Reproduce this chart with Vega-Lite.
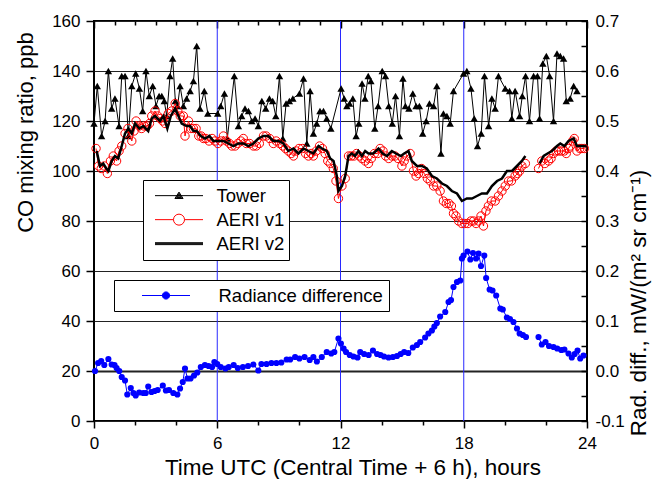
{
  "$schema": "https://vega.github.io/schema/vega-lite/v6.json",
  "width": 493,
  "height": 400,
  "autosize": {"type": "none"},
  "padding": {"left": 94, "top": 21, "right": 66, "bottom": 58},
  "config": {
    "font": "Liberation Sans",
    "view": {"stroke": "#000000", "strokeWidth": 2},
    "axis": {"labelColor": "#000000", "titleColor": "#000000", "tickColor": "#000000", "titleFontWeight": "normal", "labelFont": "Liberation Sans", "titleFont": "Liberation Sans"}
  },
  "datasets": {
    "tower": [
      {"t":0,"co":119},{"t":0.16,"co":134},{"t":0.37,"co":114},{"t":0.54,"co":120},{"t":0.7,"co":140},{"t":0.86,"co":125},{"t":1.02,"co":129},{"t":1.22,"co":118},{"t":1.35,"co":138},{"t":1.51,"co":138},{"t":1.67,"co":114},{"t":1.84,"co":134},{"t":2.03,"co":139},{"t":2.21,"co":133},{"t":2.37,"co":124},{"t":2.53,"co":140},{"t":2.69,"co":130},{"t":2.86,"co":134},{"t":3.02,"co":126},{"t":3.17,"co":130},{"t":3.3,"co":130},{"t":3.42,"co":128},{"t":3.54,"co":122},{"t":3.7,"co":138},{"t":3.83,"co":145},{"t":3.96,"co":128},{"t":4.07,"co":126},{"t":4.19,"co":134},{"t":4.35,"co":126},{"t":4.51,"co":129},{"t":4.68,"co":132},{"t":4.84,"co":136},{"t":5.0,"co":150},{"t":5.16,"co":125},{"t":5.37,"co":132},{"t":5.54,"co":123},{"t":6.02,"co":123},{"t":6.17,"co":126},{"t":6.35,"co":131},{"t":6.49,"co":113},{"t":6.83,"co":138},{"t":7.03,"co":118},{"t":7.19,"co":122},{"t":7.35,"co":125},{"t":7.52,"co":124},{"t":7.68,"co":120},{"t":7.84,"co":121},{"t":8.0,"co":118},{"t":8.17,"co":128},{"t":8.36,"co":125},{"t":8.54,"co":129},{"t":8.7,"co":128},{"t":8.85,"co":122},{"t":9.03,"co":138},{"t":9.19,"co":113},{"t":9.35,"co":127},{"t":9.51,"co":128},{"t":9.68,"co":129},{"t":10.0,"co":131},{"t":10.2,"co":137},{"t":10.36,"co":111},{"t":10.52,"co":132},{"t":10.68,"co":115},{"t":10.84,"co":119},{"t":11.0,"co":124},{"t":11.17,"co":124},{"t":11.33,"co":121},{"t":11.53,"co":117},{"t":12.03,"co":133},{"t":12.18,"co":129},{"t":12.31,"co":126},{"t":12.44,"co":127},{"t":12.6,"co":129},{"t":12.76,"co":114},{"t":12.89,"co":119},{"t":13.05,"co":135},{"t":13.19,"co":129},{"t":13.35,"co":138},{"t":13.48,"co":136},{"t":13.67,"co":117},{"t":13.83,"co":126},{"t":14.03,"co":140},{"t":14.19,"co":138},{"t":14.35,"co":126},{"t":14.52,"co":119},{"t":14.68,"co":130},{"t":14.87,"co":114},{"t":15.04,"co":137},{"t":15.16,"co":126},{"t":15.33,"co":125},{"t":15.52,"co":131},{"t":15.68,"co":126},{"t":15.84,"co":126},{"t":16.0,"co":115},{"t":16.17,"co":120},{"t":16.33,"co":127},{"t":16.53,"co":126},{"t":16.69,"co":134},{"t":16.89,"co":107},{"t":17.01,"co":123},{"t":17.18,"co":122},{"t":17.34,"co":119},{"t":17.5,"co":132},{"t":17.99,"co":139},{"t":18.15,"co":140},{"t":18.35,"co":133},{"t":18.51,"co":121},{"t":18.67,"co":110},{"t":18.85,"co":115},{"t":19.01,"co":138},{"t":19.21,"co":118},{"t":19.37,"co":129},{"t":19.53,"co":125},{"t":19.69,"co":138},{"t":20.02,"co":133},{"t":20.23,"co":132},{"t":20.34,"co":121},{"t":20.5,"co":132},{"t":20.72,"co":122},{"t":20.85,"co":130},{"t":21.01,"co":138},{"t":21.2,"co":120},{"t":21.4,"co":138},{"t":21.59,"co":138},{"t":21.69,"co":121},{"t":21.85,"co":143},{"t":22.02,"co":146},{"t":22.18,"co":138},{"t":22.37,"co":120},{"t":22.54,"co":147},{"t":22.7,"co":146},{"t":22.86,"co":145},{"t":22.99,"co":128},{"t":23.18,"co":129},{"t":23.35,"co":134},{"t":23.51,"co":132}
    ],
    "v1": [
      {"t":0.1,"co":109,"g":1},{"t":0.22,"co":102,"g":1},{"t":0.35,"co":101,"g":1},{"t":0.5,"co":102,"g":1},{"t":0.65,"co":99,"g":1},{"t":0.8,"co":104,"g":1},{"t":0.94,"co":106,"g":1},{"t":1.1,"co":104,"g":1},{"t":1.22,"co":108,"g":1},{"t":1.35,"co":110,"g":1},{"t":1.51,"co":115,"g":1},{"t":1.65,"co":117,"g":1},{"t":1.84,"co":112,"g":1},{"t":1.95,"co":116,"g":1},{"t":2.05,"co":120,"g":1},{"t":2.2,"co":118,"g":1},{"t":2.32,"co":117,"g":1},{"t":2.44,"co":118,"g":1},{"t":2.58,"co":118,"g":1},{"t":2.7,"co":119,"g":1},{"t":2.81,"co":122,"g":1},{"t":2.97,"co":124,"g":1},{"t":3.1,"co":122,"g":1},{"t":3.22,"co":121,"g":1},{"t":3.34,"co":120,"g":1},{"t":3.46,"co":119,"g":1},{"t":3.62,"co":123,"g":1},{"t":3.78,"co":124,"g":1},{"t":3.95,"co":127,"g":1},{"t":4.08,"co":124,"g":1},{"t":4.2,"co":122,"g":1},{"t":4.35,"co":122,"g":1},{"t":4.43,"co":114,"g":1},{"t":4.6,"co":120,"g":1},{"t":4.72,"co":117,"g":1},{"t":4.84,"co":117,"g":1},{"t":4.97,"co":117,"g":1},{"t":5.1,"co":114,"g":1},{"t":5.22,"co":114,"g":1},{"t":5.33,"co":113,"g":1},{"t":5.45,"co":113,"g":1},{"t":5.6,"co":112,"g":1},{"t":5.75,"co":113,"g":1},{"t":5.89,"co":112,"g":1},{"t":6.03,"co":111,"g":1},{"t":6.17,"co":112,"g":1},{"t":6.3,"co":114,"g":1},{"t":6.45,"co":112,"g":1},{"t":6.6,"co":111,"g":1},{"t":6.71,"co":110,"g":1},{"t":6.87,"co":110,"g":1},{"t":7.0,"co":111,"g":1},{"t":7.15,"co":112,"g":1},{"t":7.27,"co":113,"g":1},{"t":7.42,"co":111,"g":1},{"t":7.58,"co":111,"g":1},{"t":7.76,"co":110,"g":1},{"t":7.9,"co":110,"g":1},{"t":8.05,"co":111,"g":1},{"t":8.25,"co":114,"g":1},{"t":8.38,"co":114,"g":1},{"t":8.55,"co":113,"g":1},{"t":8.73,"co":111,"g":1},{"t":8.87,"co":112,"g":1},{"t":9.04,"co":111,"g":1},{"t":9.19,"co":110,"g":1},{"t":9.32,"co":109,"g":1},{"t":9.46,"co":108,"g":1},{"t":9.6,"co":107,"g":1},{"t":9.71,"co":106,"g":1},{"t":9.85,"co":108,"g":1},{"t":9.98,"co":109,"g":1},{"t":10.15,"co":109,"g":1},{"t":10.3,"co":107,"g":1},{"t":10.44,"co":106,"g":1},{"t":10.57,"co":107,"g":1},{"t":10.68,"co":106,"g":1},{"t":10.82,"co":108,"g":1},{"t":10.98,"co":110,"g":1},{"t":11.12,"co":109,"g":1},{"t":11.25,"co":107,"g":1},{"t":11.38,"co":104,"g":1},{"t":11.5,"co":103,"g":1},{"t":11.65,"co":101,"g":1},{"t":11.78,"co":96,"g":1},{"t":11.9,"co":89,"g":1},{"t":12.07,"co":94,"g":1},{"t":12.23,"co":97,"g":1},{"t":12.39,"co":106,"g":1},{"t":12.52,"co":106,"g":1},{"t":12.65,"co":106,"g":1},{"t":12.78,"co":107,"g":1},{"t":12.92,"co":106,"g":1},{"t":13.04,"co":105,"g":1},{"t":13.2,"co":104,"g":1},{"t":13.36,"co":103,"g":1},{"t":13.5,"co":105,"g":1},{"t":13.65,"co":107,"g":1},{"t":13.8,"co":107,"g":1},{"t":13.93,"co":109,"g":1},{"t":14.07,"co":108,"g":1},{"t":14.2,"co":106,"g":1},{"t":14.35,"co":105,"g":1},{"t":14.5,"co":106,"g":1},{"t":14.65,"co":106,"g":1},{"t":14.8,"co":105,"g":1},{"t":14.99,"co":102,"g":1},{"t":15.1,"co":104,"g":1},{"t":15.23,"co":106,"g":1},{"t":15.39,"co":107,"g":1},{"t":15.55,"co":100,"g":1},{"t":15.68,"co":98,"g":1},{"t":15.8,"co":99,"g":1},{"t":15.95,"co":101,"g":1},{"t":16.08,"co":99,"g":1},{"t":16.23,"co":97,"g":1},{"t":16.37,"co":96,"g":1},{"t":16.53,"co":94,"g":1},{"t":16.69,"co":94,"g":1},{"t":16.85,"co":92,"g":1},{"t":17.01,"co":88,"g":1},{"t":17.15,"co":87,"g":1},{"t":17.28,"co":87,"g":1},{"t":17.4,"co":86,"g":1},{"t":17.5,"co":83,"g":1},{"t":17.62,"co":82,"g":1},{"t":17.75,"co":80,"g":1},{"t":17.91,"co":79,"g":1},{"t":18.05,"co":79,"g":1},{"t":18.2,"co":79,"g":1},{"t":18.35,"co":80,"g":1},{"t":18.48,"co":80,"g":1},{"t":18.6,"co":79,"g":1},{"t":18.72,"co":80,"g":1},{"t":18.84,"co":82,"g":1},{"t":18.96,"co":78,"g":1},{"t":19.08,"co":84,"g":1},{"t":19.2,"co":86,"g":1},{"t":19.35,"co":88,"g":1},{"t":19.53,"co":88,"g":1},{"t":19.69,"co":90,"g":1},{"t":19.86,"co":92,"g":1},{"t":20.02,"co":94,"g":1},{"t":20.18,"co":96,"g":1},{"t":20.32,"co":96,"g":1},{"t":20.5,"co":98,"g":1},{"t":20.62,"co":99,"g":1},{"t":20.72,"co":100,"g":1},{"t":20.83,"co":102,"g":1},{"t":21.0,"co":103,"g":1},{"t":21.64,"co":101,"g":2},{"t":21.8,"co":104,"g":2},{"t":21.95,"co":103,"g":2},{"t":22.13,"co":104,"g":2},{"t":22.25,"co":105,"g":2},{"t":22.37,"co":107,"g":2},{"t":22.5,"co":108,"g":2},{"t":22.62,"co":108,"g":2},{"t":22.75,"co":108,"g":2},{"t":22.9,"co":108,"g":2},{"t":22.99,"co":107,"g":2},{"t":23.1,"co":109,"g":2},{"t":23.18,"co":110,"g":2},{"t":23.3,"co":112,"g":2},{"t":23.38,"co":113,"g":2},{"t":23.51,"co":108,"g":2},{"t":23.65,"co":109,"g":2},{"t":23.75,"co":109,"g":2},{"t":23.87,"co":109,"g":2}
    ],
    "v2": [
      {"t":0.13,"co":108,"g":1},{"t":0.29,"co":102,"g":1},{"t":0.45,"co":103,"g":1},{"t":0.6,"co":101,"g":1},{"t":0.7,"co":100,"g":1},{"t":0.86,"co":104,"g":1},{"t":1.02,"co":106,"g":1},{"t":1.18,"co":105,"g":1},{"t":1.35,"co":110,"g":1},{"t":1.51,"co":115,"g":1},{"t":1.67,"co":117,"g":1},{"t":1.84,"co":115,"g":1},{"t":2.0,"co":119,"g":1},{"t":2.21,"co":117,"g":1},{"t":2.4,"co":118,"g":1},{"t":2.64,"co":116,"g":1},{"t":2.81,"co":121,"g":1},{"t":2.97,"co":122,"g":1},{"t":3.21,"co":120,"g":1},{"t":3.38,"co":122,"g":1},{"t":3.57,"co":117,"g":1},{"t":3.74,"co":122,"g":1},{"t":3.95,"co":125,"g":1},{"t":4.11,"co":122,"g":1},{"t":4.27,"co":119,"g":1},{"t":4.51,"co":118,"g":1},{"t":4.68,"co":118,"g":1},{"t":4.84,"co":116,"g":1},{"t":5.0,"co":116,"g":1},{"t":5.2,"co":114,"g":1},{"t":5.41,"co":113,"g":1},{"t":5.62,"co":114,"g":1},{"t":5.81,"co":112,"g":1},{"t":6.05,"co":112,"g":1},{"t":6.3,"co":112,"g":1},{"t":6.54,"co":111,"g":1},{"t":6.79,"co":110,"g":1},{"t":7.03,"co":111,"g":1},{"t":7.27,"co":111,"g":1},{"t":7.52,"co":110,"g":1},{"t":7.76,"co":111,"g":1},{"t":8.0,"co":113,"g":1},{"t":8.25,"co":114,"g":1},{"t":8.49,"co":114,"g":1},{"t":8.73,"co":112,"g":1},{"t":8.98,"co":112,"g":1},{"t":9.22,"co":111,"g":1},{"t":9.46,"co":108,"g":1},{"t":9.71,"co":109,"g":1},{"t":9.95,"co":107,"g":1},{"t":10.2,"co":109,"g":1},{"t":10.44,"co":108,"g":1},{"t":10.68,"co":107,"g":1},{"t":10.93,"co":110,"g":1},{"t":11.1,"co":109,"g":1},{"t":11.33,"co":108,"g":1},{"t":11.5,"co":105,"g":1},{"t":11.66,"co":104,"g":1},{"t":11.82,"co":98,"g":1},{"t":11.9,"co":92,"g":1},{"t":12.07,"co":94,"g":1},{"t":12.23,"co":98,"g":1},{"t":12.39,"co":106,"g":1},{"t":12.55,"co":107,"g":1},{"t":12.71,"co":106,"g":1},{"t":12.87,"co":108,"g":1},{"t":13.04,"co":106,"g":1},{"t":13.2,"co":108,"g":1},{"t":13.36,"co":107,"g":1},{"t":13.6,"co":107,"g":1},{"t":13.85,"co":109,"g":1},{"t":14.05,"co":107,"g":1},{"t":14.26,"co":106,"g":1},{"t":14.5,"co":108,"g":1},{"t":14.7,"co":107,"g":1},{"t":14.94,"co":106,"g":1},{"t":15.1,"co":107,"g":1},{"t":15.31,"co":108,"g":1},{"t":15.47,"co":104,"g":1},{"t":15.72,"co":102,"g":1},{"t":15.96,"co":102,"g":1},{"t":16.2,"co":101,"g":1},{"t":16.45,"co":98,"g":1},{"t":16.69,"co":97,"g":1},{"t":16.94,"co":95,"g":1},{"t":17.18,"co":94,"g":1},{"t":17.42,"co":92,"g":1},{"t":17.67,"co":91,"g":1},{"t":17.91,"co":88,"g":1},{"t":18.15,"co":89,"g":1},{"t":18.4,"co":89,"g":1},{"t":18.64,"co":90,"g":1},{"t":18.88,"co":91,"g":1},{"t":19.13,"co":91,"g":1},{"t":19.37,"co":94,"g":1},{"t":19.62,"co":96,"g":1},{"t":19.86,"co":97,"g":1},{"t":20.1,"co":100,"g":1},{"t":20.35,"co":100,"g":1},{"t":20.59,"co":102,"g":1},{"t":20.83,"co":104,"g":1},{"t":21.0,"co":106,"g":1},{"t":21.69,"co":103,"g":2},{"t":21.89,"co":106,"g":2},{"t":22.08,"co":107,"g":2},{"t":22.29,"co":108,"g":2},{"t":22.54,"co":110,"g":2},{"t":22.7,"co":111,"g":2},{"t":22.9,"co":110,"g":2},{"t":23.1,"co":112,"g":2},{"t":23.35,"co":113,"g":2},{"t":23.51,"co":110,"g":2},{"t":23.75,"co":110,"g":2},{"t":23.96,"co":110,"g":2}
    ],
    "rad": [
      {"t":0.05,"r":0.0,"g":1},{"t":0.2,"r":0.016,"g":1},{"t":0.35,"r":0.02,"g":1},{"t":0.5,"r":0.012,"g":1},{"t":0.7,"r":0.024,"g":1},{"t":0.86,"r":0.013,"g":1},{"t":1.0,"r":0.012,"g":1},{"t":1.1,"r":0.006,"g":1},{"t":1.23,"r":0.0,"g":1},{"t":1.35,"r":-0.012,"g":1},{"t":1.51,"r":-0.019,"g":1},{"t":1.62,"r":-0.047,"g":1},{"t":1.79,"r":-0.034,"g":1},{"t":1.92,"r":-0.044,"g":1},{"t":2.03,"r":-0.049,"g":1},{"t":2.2,"r":-0.043,"g":1},{"t":2.4,"r":-0.044,"g":1},{"t":2.52,"r":-0.044,"g":1},{"t":2.64,"r":-0.031,"g":1},{"t":2.8,"r":-0.042,"g":1},{"t":2.95,"r":-0.04,"g":1},{"t":3.1,"r":-0.038,"g":1},{"t":3.35,"r":-0.029,"g":1},{"t":3.5,"r":-0.039,"g":1},{"t":3.65,"r":-0.038,"g":1},{"t":3.86,"r":-0.044,"g":1},{"t":4.06,"r":-0.047,"g":1},{"t":4.19,"r":-0.035,"g":1},{"t":4.32,"r":-0.022,"g":1},{"t":4.43,"r":0.005,"g":1},{"t":4.55,"r":-0.015,"g":1},{"t":4.7,"r":-0.015,"g":1},{"t":4.87,"r":-0.009,"g":1},{"t":5.03,"r":-0.003,"g":1},{"t":5.2,"r":0.008,"g":1},{"t":5.4,"r":0.012,"g":1},{"t":5.58,"r":0.01,"g":1},{"t":5.75,"r":0.008,"g":1},{"t":5.86,"r":0.018,"g":1},{"t":6.0,"r":0.014,"g":1},{"t":6.17,"r":0.008,"g":1},{"t":6.4,"r":0.005,"g":1},{"t":6.56,"r":0.008,"g":1},{"t":6.8,"r":0.012,"g":1},{"t":7.0,"r":0.006,"g":1},{"t":7.25,"r":0.008,"g":1},{"t":7.5,"r":0.01,"g":1},{"t":7.76,"r":0.013,"g":1},{"t":8.0,"r":0.001,"g":1},{"t":8.15,"r":0.014,"g":1},{"t":8.4,"r":0.014,"g":1},{"t":8.64,"r":0.016,"g":1},{"t":8.88,"r":0.016,"g":1},{"t":9.12,"r":0.017,"g":1},{"t":9.38,"r":0.023,"g":1},{"t":9.55,"r":0.023,"g":1},{"t":9.79,"r":0.028,"g":1},{"t":10.0,"r":0.025,"g":1},{"t":10.25,"r":0.028,"g":1},{"t":10.5,"r":0.022,"g":1},{"t":10.68,"r":0.028,"g":1},{"t":10.85,"r":0.019,"g":1},{"t":11.09,"r":0.028,"g":1},{"t":11.33,"r":0.038,"g":1},{"t":11.55,"r":0.035,"g":1},{"t":11.7,"r":0.038,"g":1},{"t":11.9,"r":0.065,"g":1},{"t":12.02,"r":0.055,"g":1},{"t":12.15,"r":0.045,"g":1},{"t":12.27,"r":0.038,"g":1},{"t":12.45,"r":0.032,"g":1},{"t":12.63,"r":0.029,"g":1},{"t":12.83,"r":0.027,"g":1},{"t":12.96,"r":0.038,"g":1},{"t":13.15,"r":0.034,"g":1},{"t":13.37,"r":0.032,"g":1},{"t":13.58,"r":0.041,"g":1},{"t":13.78,"r":0.034,"g":1},{"t":13.95,"r":0.032,"g":1},{"t":14.12,"r":0.029,"g":1},{"t":14.34,"r":0.027,"g":1},{"t":14.55,"r":0.028,"g":1},{"t":14.75,"r":0.03,"g":1},{"t":14.93,"r":0.034,"g":1},{"t":15.1,"r":0.038,"g":1},{"t":15.3,"r":0.036,"g":1},{"t":15.52,"r":0.047,"g":1},{"t":15.72,"r":0.052,"g":1},{"t":15.88,"r":0.058,"g":1},{"t":16.12,"r":0.067,"g":1},{"t":16.28,"r":0.075,"g":1},{"t":16.45,"r":0.081,"g":1},{"t":16.57,"r":0.089,"g":1},{"t":16.69,"r":0.096,"g":1},{"t":16.85,"r":0.109,"g":1},{"t":17.1,"r":0.118,"g":1},{"t":17.26,"r":0.138,"g":1},{"t":17.38,"r":0.142,"g":1},{"t":17.5,"r":0.168,"g":1},{"t":17.67,"r":0.178,"g":1},{"t":17.83,"r":0.181,"g":1},{"t":17.91,"r":0.225,"g":1},{"t":17.99,"r":0.231,"g":1},{"t":18.18,"r":0.239,"g":1},{"t":18.32,"r":0.223,"g":1},{"t":18.45,"r":0.236,"g":1},{"t":18.6,"r":0.225,"g":1},{"t":18.72,"r":0.235,"g":1},{"t":18.84,"r":0.21,"g":1},{"t":19.0,"r":0.231,"g":1},{"t":19.09,"r":0.186,"g":1},{"t":19.26,"r":0.163,"g":1},{"t":19.4,"r":0.161,"g":1},{"t":19.58,"r":0.151,"g":1},{"t":19.78,"r":0.125,"g":1},{"t":19.9,"r":0.123,"g":1},{"t":20.1,"r":0.107,"g":1},{"t":20.25,"r":0.104,"g":1},{"t":20.42,"r":0.098,"g":1},{"t":20.59,"r":0.085,"g":1},{"t":20.72,"r":0.075,"g":1},{"t":20.88,"r":0.072,"g":1},{"t":21.03,"r":0.068,"g":1},{"t":21.64,"r":0.068,"g":2},{"t":21.8,"r":0.053,"g":2},{"t":21.98,"r":0.058,"g":2},{"t":22.15,"r":0.05,"g":2},{"t":22.37,"r":0.048,"g":2},{"t":22.55,"r":0.045,"g":2},{"t":22.75,"r":0.042,"g":2},{"t":22.9,"r":0.043,"g":2},{"t":23.1,"r":0.035,"g":2},{"t":23.26,"r":0.027,"g":2},{"t":23.4,"r":0.034,"g":2},{"t":23.54,"r":0.041,"g":2},{"t":23.67,"r":0.025,"g":2},{"t":23.83,"r":0.031,"g":2}
    ],
    "hours": [{"t": 6}, {"t": 12}, {"t": 18}],
    "series": [{"s": "Tower"}, {"s": "AERI v1"}, {"s": "AERI v2"}, {"s": "Radiance difference"}]
  },
  "layer": [
    {
      "layer": [
        {
          "data": {"name": "hours"},
          "mark": {"type": "rule", "color": "#2828ff", "strokeWidth": 1},
          "encoding": {
            "x": {
              "field": "t", "type": "quantitative",
              "scale": {"domain": [0, 24], "nice": false, "zero": false},
              "axis": {
                "orient": "bottom",
                "values": [0,1,2,3,4,5,6,7,8,9,10,11,12,13,14,15,16,17,18,19,20,21,22,23,24],
                "labelExpr": "datum.value % 6 == 0 ? datum.label : ''",
                "tickSize": {"condition": {"test": "datum.value % 6 == 0", "value": 7}, "value": 4},
                "tickWidth": 1.5,
                "labelPadding": 7,
                "labelFontSize": 17,
                "labelFlush": false,
                "labelOverlap": false,
                "grid": false,
                "domain": false,
                "title": "Time UTC (Central Time + 6 h), hours",
                "titleFontSize": 22.5,
                "titleX": 258.5,
                "titleY": 53,
                "titleAlign": "center",
                "titleBaseline": "alphabetic"
              }
            }
          }
        },
        {
          "data": {"name": "tower"},
          "encoding": {
            "x": {"field": "t", "type": "quantitative"},
            "y": {
              "field": "co", "type": "quantitative",
              "scale": {"domain": [0, 160], "nice": false, "zero": false},
              "axis": {
                "orient": "left",
                "values": [0,10,20,30,40,50,60,70,80,90,100,110,120,130,140,150,160],
                "labelExpr": "datum.value % 20 == 0 ? datum.label : ''",
                "tickSize": {"condition": {"test": "datum.value % 20 == 0", "value": 8}, "value": -4},
                "tickWidth": 1.5,
                "labelPadding": 6,
                "labelFontSize": 17,
                "labelFlush": false,
                "labelOverlap": false,
                "grid": true,
                "gridDash": {"condition": {"test": "datum.value % 20 == 0", "value": []}, "value": [1.5, 2]},
                "gridColor": {"condition": {"test": "datum.value % 20 == 0", "value": "#222222"}, "value": "#555555"},
                "gridWidth": {"condition": {"test": "datum.value == 20", "value": 2}, "value": 1},
                "domain": false,
                "title": "CO mixing ratio, ppb",
                "titleFontSize": 22,
                "titleAngle": 270,
                "titleX": -62,
                "titleY": 111,
                "titleAlign": "center",
                "titleBaseline": "alphabetic"
              }
            }
          },
          "layer": [
            {"mark": {"type": "line", "color": "#000000", "strokeWidth": 1}},
            {"mark": {"type": "point", "shape": "triangle-up", "filled": true, "color": "#000000", "size": 55, "opacity": 1}}
          ]
        },
        {
          "data": {"name": "v1"},
          "encoding": {
            "x": {"field": "t", "type": "quantitative"},
            "y": {"field": "co", "type": "quantitative"}
          },
          "layer": [
            {"mark": {"type": "line", "color": "#ff0000", "strokeWidth": 1}, "encoding": {"detail": {"field": "g", "type": "nominal"}}},
            {"mark": {"type": "point", "shape": "circle", "filled": false, "color": "#ff0000", "strokeWidth": 1, "size": 70, "opacity": 1}}
          ]
        },
        {
          "data": {"name": "v2"},
          "mark": {"type": "line", "color": "#000000", "strokeWidth": 2.5},
          "encoding": {
            "x": {"field": "t", "type": "quantitative"},
            "y": {"field": "co", "type": "quantitative"},
            "detail": {"field": "g", "type": "nominal"}
          }
        },
        {
          "mark": {"type": "text", "text": "Noon", "align": "left", "baseline": "alphabetic", "fontSize": 18, "font": "Liberation Sans", "color": "#000000"},
          "encoding": {
            "x": {"datum": 18.88, "type": "quantitative"},
            "y": {"datum": 13.1, "type": "quantitative"}
          }
        },
        {
          "mark": {"type": "rule", "color": "#000000", "strokeWidth": 1.2},
          "encoding": {
            "x": {"datum": 18.4, "type": "quantitative"},
            "y": {"datum": 17.5, "type": "quantitative"},
            "y2": {"datum": 6}
          }
        },
        {
          "mark": {"type": "point", "shape": "M-0.6,-1L0.6,-1L0,1Z", "filled": true, "color": "#000000", "size": 64, "opacity": 1},
          "encoding": {
            "x": {"datum": 18.4, "type": "quantitative"},
            "y": {"datum": 5.5, "type": "quantitative"}
          }
        },
        {
          "data": {"name": "series"},
          "transform": [{"filter": "datum.s == 'none'"}],
          "mark": {"type": "point", "filled": false, "size": 2304, "opacity": 1},
          "encoding": {
            "color": {
              "field": "s", "type": "nominal",
              "scale": {"domain": ["Tower", "AERI v1", "AERI v2"], "range": ["#000000", "#ff0000", "#000000"]},
              "legend": {
                "orient": "none", "legendX": 49, "legendY": 159, "title": null,
                "padding": 4, "fillColor": "#ffffff", "strokeColor": "#000000",
                "clipHeight": 23.3, "rowPadding": 0, "symbolSize": 2304, "symbolStrokeWidth": 1,
                "symbolOffset": 7.5, "labelOffset": 13, "labelFontSize": 18.5, "labelFont": "Liberation Sans", "labelColor": "#000000", "labelLimit": 400
              }
            },
            "shape": {
              "field": "s", "type": "nominal",
              "scale": {"domain": ["Tower", "AERI v1", "AERI v2"], "range": [
                "M-1,0H1M0,-0.15L0.17,0.12L-0.17,0.12ZM0,-0.1L0.11,0.08L-0.11,0.08ZM0,-0.05L0.06,0.05L-0.06,0.05Z",
                "M-1,0H-0.23M0.23,0H1M0.23,0A0.23,0.23,0,1,1,-0.23,0A0.23,0.23,0,1,1,0.23,0Z",
                "M-1,-0.04H1M-1,0H1M-1,0.04H1"
              ]},
              "legend": {
                "orient": "none", "legendX": 49, "legendY": 159, "title": null,
                "padding": 4, "fillColor": "#ffffff", "strokeColor": "#000000",
                "clipHeight": 23.3, "rowPadding": 0, "symbolSize": 2304, "symbolStrokeWidth": 1,
                "symbolOffset": 7.5, "labelOffset": 13, "labelFontSize": 18.5, "labelFont": "Liberation Sans", "labelColor": "#000000", "labelLimit": 400
              }
            }
          }
        },
        {
          "data": {"name": "series"},
          "transform": [{"filter": "datum.s == 'none'"}],
          "mark": {"type": "point", "filled": true, "size": 2304, "opacity": 1},
          "encoding": {
            "fill": {
              "field": "s", "type": "nominal",
              "scale": {"domain": ["Radiance difference"], "range": ["#0000ff"]},
              "legend": {
                "orient": "none", "legendX": 20, "legendY": 259, "title": null,
                "padding": 6, "fillColor": "#ffffff", "strokeColor": "#000000",
                "clipHeight": 19, "rowPadding": 0, "symbolSize": 2304, "symbolStrokeWidth": 1,
                "symbolType": "M-1,0H1M0.15,0A0.15,0.15,0,1,1,-0.15,0A0.15,0.15,0,1,1,0.15,0Z",
                "symbolStrokeColor": "#0000ff", "symbolFillColor": "#0000ff",
                "symbolOffset": 21.5, "labelOffset": 28, "labelFontSize": 18.5, "labelFont": "Liberation Sans", "labelColor": "#000000", "labelLimit": 400,
                "encode": {"symbols": {
                  "stroke": {"value": "#0000ff"},
                  "fill": {"value": "#0000ff"},
                  "shape": {"value": "M-1,0H1M0.15,0A0.15,0.15,0,1,1,-0.15,0A0.15,0.15,0,1,1,0.15,0Z"}
                }}
              }
            }
          }
        }
      ]
    },
    {
      "data": {"name": "rad"},
      "encoding": {
        "x": {
          "field": "t", "type": "quantitative",
          "axis": {
            "orient": "top",
            "values": [0,1,2,3,4,5,6,7,8,9,10,11,12,13,14,15,16,17,18,19,20,21,22,23,24],
            "labels": false,
            "tickSize": {"condition": {"test": "datum.value % 6 == 0", "value": -7}, "value": -4},
            "tickWidth": 1.5,
            "grid": false,
            "domain": false,
            "title": null
          }
        },
        "y": {
          "field": "r", "type": "quantitative",
          "scale": {"domain": [-0.1, 0.7], "nice": false, "zero": false},
          "axis": {
            "orient": "right",
            "values": [-0.1,-0.05,0,0.05,0.1,0.15,0.2,0.25,0.3,0.35,0.4,0.45,0.5,0.55,0.6,0.65,0.7],
            "labelExpr": "abs(datum.value*10 - round(datum.value*10)) < 0.01 ? replace(format(datum.value, '.1f'), '\u2212', '-') : ''",
            "tickSize": -6,
            "tickWidth": 1.5,
            "labelPadding": 14,
            "labelFontSize": 17,
            "labelFlush": false,
            "labelOverlap": false,
            "grid": false,
            "domain": false,
            "title": "Rad. diff., mW/(m² sr cm⁻¹)",
            "titleFontSize": 22.5,
            "titleAngle": 270,
            "titleX": 58,
            "titleY": 281.5,
            "titleAlign": "center",
            "titleBaseline": "alphabetic"
          }
        }
      },
      "layer": [
        {"mark": {"type": "line", "color": "#0000ff", "strokeWidth": 1}, "encoding": {"detail": {"field": "g", "type": "nominal"}}},
        {"mark": {"type": "point", "shape": "circle", "filled": true, "color": "#0000ff", "size": 38, "opacity": 1}}
      ]
    }
  ],
  "resolve": {"scale": {"y": "independent"}, "axis": {"x": "independent", "y": "independent"}}
}
